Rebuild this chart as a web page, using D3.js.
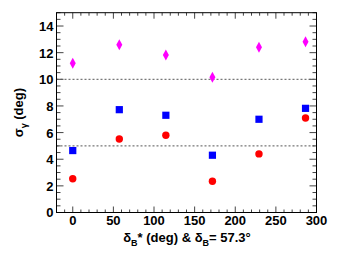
<!DOCTYPE html>
<html>
<head>
<meta charset="utf-8">
<script src="https://cdn.jsdelivr.net/npm/d3@7"></script>
<style>
    body { margin: 0; background: #fff; }
    text { font-family: 'Liberation Sans', Arial, sans-serif; font-weight: bold; }
</style>
</head>
<body>
<div id="chart"></div>
<script>
// delta_B* values (deg)
const deltaB = [0, 57.3, 114.6, 171.9, 229.2, 286.5];
const diamondVals = [11.2, 12.6, 11.82, 10.15, 12.4, 12.82];
const squareVals = [4.65, 7.72, 7.3, 4.3, 7.0, 7.82];
const circleVals = [2.53, 5.52, 5.8, 2.35, 4.4, 7.1];
const refLines = [5, 10];
const xTicks = [0, 50, 100, 150, 200, 250, 300];
const yTicks = [0, 2, 4, 6, 8, 10, 12, 14];

let margin = { left: 56.5, right: 36.5, top: 12.7, bottom: 41.5 },
    width = 353 - margin.left - margin.right,
    height = 254 - margin.top - margin.bottom;

const svg = d3.select('#chart').append('svg')
    .attr('width', 353)
    .attr('height', 254);

const g = svg.append('g')
    .attr('transform', 'translate(' + margin.left + ',' + margin.top + ')');

const x = d3.scaleLinear().domain([-20, 300]).range([0, width]);
const y = d3.scaleLinear().domain([0, 15]).range([height, 0]);

// minor ticks
const xMinor = d3.range(-20, 301, 10).filter(v => v % 50 !== 0);
const yMinor = d3.range(0, 15.01, 0.5).filter(v => v % 2 !== 0);

function tickLines(vals, scale, horiz, len, cls) {
    vals.forEach(function(v) {
        if (horiz) {
            g.append('line').attr('class', cls)
                .attr('x1', scale(v)).attr('x2', scale(v))
                .attr('y1', height).attr('y2', height - len);
            g.append('line').attr('class', cls)
                .attr('x1', scale(v)).attr('x2', scale(v))
                .attr('y1', 0).attr('y2', len);
        } else {
            g.append('line').attr('class', cls)
                .attr('x1', 0).attr('x2', len)
                .attr('y1', scale(v)).attr('y2', scale(v));
            g.append('line').attr('class', cls)
                .attr('x1', width).attr('x2', width - len)
                .attr('y1', scale(v)).attr('y2', scale(v));
        }
    });
}

tickLines(xTicks, x, true, 6, 'tick');
tickLines(xMinor, x, true, 3, 'tick');
tickLines(yTicks, y, false, 7, 'tick');
tickLines(yMinor, y, false, 4, 'tick');
g.selectAll('line.tick').attr('stroke', '#444').attr('stroke-width', 1);

// dashed reference lines
g.selectAll('.ref')
    .data(refLines)
    .enter().append('line')
    .attr('class', 'ref')
    .attr('x1', 0).attr('x2', width)
    .attr('y1', d => y(d)).attr('y2', d => y(d))
    .attr('stroke', '#555')
    .attr('stroke-width', 1)
    .attr('stroke-dasharray', '2,2');

// frame
g.append('rect')
    .attr('width', width).attr('height', height)
    .attr('fill', 'none').attr('stroke', '#000').attr('stroke-width', 1);

// tick labels
g.selectAll('.xlab')
    .data(xTicks)
    .enter().append('text')
    .attr('class', 'xlab')
    .attr('x', d => x(d))
    .attr('y', height + 12.5)
    .attr('text-anchor', 'middle')
    .style('font-size', '13px')
    .text(d => d);

g.selectAll('.ylab')
    .data(yTicks)
    .enter().append('text')
    .attr('class', 'ylab')
    .attr('x', -3)
    .attr('y', d => y(d) + 5)
    .attr('text-anchor', 'end')
    .style('font-size', '13px')
    .text(d => d);

// axis titles
const xt = svg.append('text')
    .attr('x', 187)
    .attr('y', 241.5)
    .attr('text-anchor', 'middle')
    .style('font-size', '13px');
xt.append('tspan').text('\u03b4');
xt.append('tspan').attr('dy', 4).style('font-size', '9px').text('B');
xt.append('tspan').attr('dy', -4).text('* (deg) &  \u03b4');
xt.append('tspan').attr('dy', 4).style('font-size', '9px').text('B');
xt.append('tspan').attr('dy', -4).text('= 57.3\u00b0');

const yt = svg.append('text')
    .attr('transform', 'translate(23,' + (margin.top + height / 2) + ') rotate(-90)')
    .attr('text-anchor', 'middle')
    .style('font-size', '13px');
yt.append('tspan').text('\u03c3');
yt.append('tspan').attr('dy', 4).style('font-size', '9px').text('\u03b3');
yt.append('tspan').attr('dy', -4).text(' (deg)');

// markers
const zip = vals => deltaB.map((d, i) => ({ x: d, v: vals[i] }));

g.selectAll('.diamond')
    .data(zip(diamondVals))
    .enter().append('path')
    .attr('class', 'diamond')
    .attr('d', 'M0,-5.5L3,0L0,5.5L-3,0Z')
    .attr('transform', d => 'translate(' + x(d.x) + ',' + y(d.v) + ')')
    .attr('fill', '#ff00ff');

g.selectAll('.square')
    .data(zip(squareVals))
    .enter().append('rect')
    .attr('class', 'square')
    .attr('x', d => x(d.x) - 3.6)
    .attr('y', d => y(d.v) - 3.6)
    .attr('width', 7.2).attr('height', 7.2)
    .attr('fill', '#0000ff');

g.selectAll('.circle')
    .data(zip(circleVals))
    .enter().append('circle')
    .attr('class', 'circle')
    .attr('cx', d => x(d.x))
    .attr('cy', d => y(d.v))
    .attr('r', 3.7)
    .attr('fill', '#ff0000');
</script>
</body>
</html>
